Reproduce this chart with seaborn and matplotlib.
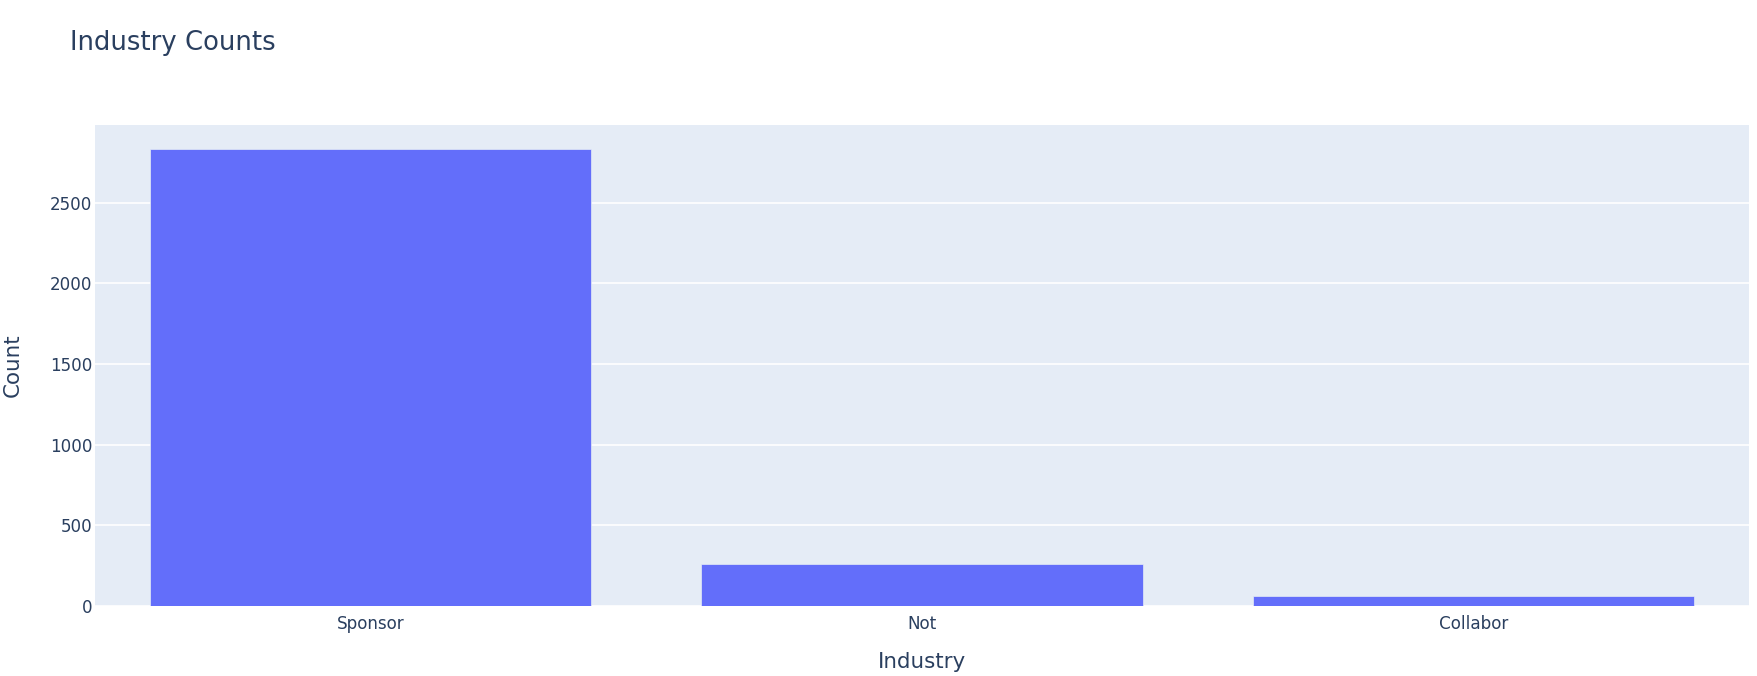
import seaborn as sns
import matplotlib.pyplot as plt

# data
industries = ['Sponsor', 'Not', 'Collabor']
counts = [2832, 262, 61]
y_ticks = [0, 500, 1000, 1500, 2000, 2500]

bar_color = '#636EFA'
bg_color = '#E5ECF6'
text_color = '#2a3f5f'

sns.set_style('white')
plt.rcParams['font.family'] = ['DejaVu Sans']

fig = plt.figure(figsize=(17.58, 6.76), dpi=100)
ax = fig.add_axes([95 / 1758, 70 / 676, 1654 / 1758, 481 / 676])
ax.set_facecolor(bg_color)

sns.barplot(x=industries, y=counts, color=bar_color, saturation=1, width=0.8,
            edgecolor=bg_color, linewidth=0.5, ax=ax, zorder=3)

ax.set_xlim(-0.5, len(industries) - 0.5)
ax.set_ylim(0, max(counts) * 1.0526)
ax.set_yticks(y_ticks)
ax.set_yticklabels([str(t) for t in y_ticks])
ax.grid(axis='y', color='white', linewidth=1.2, zorder=0)
ax.set_axisbelow(True)
for s in ax.spines.values():
    s.set_visible(False)

ax.tick_params(axis='both', length=0, labelsize=12.1, colors=text_color)
ax.tick_params(axis='y', pad=2)
ax.tick_params(axis='x', pad=6.3)

ax.set_xlabel('Industry', fontsize=15.4, color=text_color)
ax.xaxis.label.set_va('baseline')
ax.xaxis.set_label_coords(0.5, (8.3 - 70) / 481)
ax.set_ylabel('Count', fontsize=15.4, color=text_color)
ax.yaxis.label.set_va('baseline')
ax.yaxis.set_label_coords((19 - 95) / 1654, 0.5)

fig.text(70 / 1758, 1 - 50 / 676, 'Industry Counts', fontsize=18.6,
         color=text_color, ha='left', va='baseline')

fig.savefig('out.png', dpi=100, facecolor='white')
